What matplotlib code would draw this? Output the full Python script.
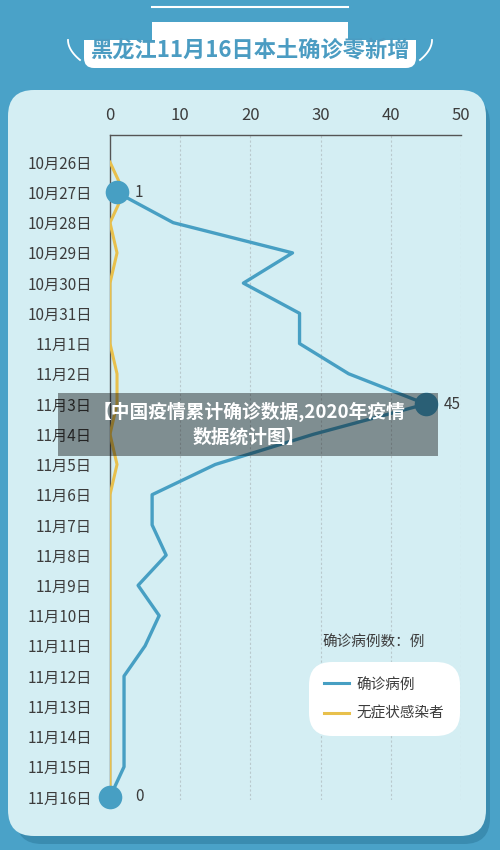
import matplotlib
matplotlib.use('Agg')
import matplotlib.pyplot as plt
import numpy as np
from matplotlib.patches import FancyBboxPatch, Rectangle
from matplotlib.lines import Line2D

plt.rcParams['font.family'] = ['Noto Sans CJK SC', 'DejaVu Sans']

## Data
dates = ['10月26日', '10月27日', '10月28日', '10月29日', '10月30日', '10月31日',
         '11月1日', '11月2日', '11月3日', '11月4日', '11月5日', '11月6日',
         '11月7日', '11月8日', '11月9日', '11月10日', '11月11日', '11月12日',
         '11月13日', '11月14日', '11月15日', '11月16日']
confirmed = [np.nan, 1, 9, 26, 19, 27, 27, 34, 45, 29, 15, 6,
             6, 8, 4, 7, 5, 2, 2, 2, 2, 0]
asymptomatic = [0, 2, 0, 1, 0, 0, 0, 1, 1, 0, 1, 0,
                0, 0, 0, 0, 0, 0, 0, 0, 0, 0]
highlight = ['10月27日', '11月3日', '11月16日']
xticks = [0, 10, 20, 30, 40, 50]

title = '黑龙江11月16日本土确诊零新增'
unit_label = '确诊病例数：例'
series_names = ['确诊病例', '无症状感染者']
overlay_text = '【中国疫情累计确诊数据,2020年疫情\n数据统计图】'

## Colours
bg_blue = '#4aa2c8'
panel = '#d4eef3'
blue = '#479fc3'
yellow = '#e8c04c'
txt = '#3c3c3c'

W, H = 500, 850
fig = plt.figure(figsize=(W / 100, H / 100), dpi=100)
fig.patch.set_facecolor(bg_blue)

# background decoration in pixel coordinates
bg = fig.add_axes([0, 0, 1, 1])
bg.set_xlim(0, W)
bg.set_ylim(H, 0)
bg.axis('off')
bg.add_patch(FancyBboxPatch((16, 98), 474, 746, boxstyle='round,pad=0,rounding_size=26',
                            fc='#3a8cb0', ec='none'))
bg.add_patch(FancyBboxPatch((8, 90), 478, 746, boxstyle='round,pad=0,rounding_size=26',
                            fc=panel, ec='none'))
bg.plot([152, 348], [7, 7], color='white', lw=1.5)
bg.add_patch(Rectangle((152, 22), 196, 30, fc='white', ec='none'))
bg.add_patch(FancyBboxPatch((84, 40), 332, 28, boxstyle='round,pad=0,rounding_size=10',
                            fc='white', ec='none'))
bg.add_patch(Rectangle((84, 40), 332, 12, fc='white', ec='none'))
t = np.linspace(0, 1, 30)
bg.plot(68 + 12 * t ** 2, 40 + 20 * t, color='white', lw=1.3)
bg.plot(432 - 12 * t ** 2, 40 + 20 * t, color='white', lw=1.3)
bg.text(250, 50, title, ha='center', va='center', fontsize=16, fontweight='bold',
        color='#4b9cc2')

# main chart
ax = fig.add_axes([110 / W, 1 - 800 / H, 351 / W, 665 / H])
ax.patch.set_alpha(0)
y = np.arange(len(dates))

ax.plot(asymptomatic, y, color=yellow, lw=2.2, zorder=3)
ax.plot(confirmed, y, color=blue, lw=2.4, zorder=4)

for d in highlight:
    i = dates.index(d)
    ax.plot(confirmed[i], i, 'o', ms=17, color=blue, mec='none', zorder=5, clip_on=False)
    off = 18 if confirmed[i] == 0 else 13
    ax.annotate('%d' % confirmed[i], (confirmed[i], i), xytext=(off, 0),
                textcoords='offset points', va='center', ha='left', fontsize=11,
                color=txt)

ax.set_xlim(0, 50)
ax.set_ylim(len(dates) - 1 + 0.1, -0.9)
ax.set_xticks(xticks)
ax.set_yticks(y)
ax.set_yticklabels(dates)
ax.xaxis.tick_top()
ax.tick_params(axis='x', length=0, pad=8, labelsize=12, labelcolor=txt)
ax.tick_params(axis='y', length=0, pad=13, labelsize=11, labelcolor=txt)
for s in ['right', 'bottom']:
    ax.spines[s].set_visible(False)
for s in ['top', 'left']:
    ax.spines[s].set_color('#555555')
    ax.spines[s].set_linewidth(1.0)
for v in xticks[1:]:
    ax.axvline(v, color='#b9c9cd', lw=0.8, ls=(0, (2, 2)), zorder=1)

# legend
handles = [Line2D([], [], color=blue, lw=2.2), Line2D([], [], color=yellow, lw=2.2)]
leg = fig.legend(handles, series_names, loc='upper left',
                 bbox_to_anchor=(312 / W, 1 - 665 / H), bbox_transform=fig.transFigure,
                 borderaxespad=0, frameon=True, fontsize=10.5, handlelength=1.7,
                 handletextpad=0.5, labelspacing=1.05, borderpad=0.85, labelcolor=txt)
frame = leg.get_frame()
frame.set_facecolor('white')
frame.set_edgecolor('none')
frame.set_alpha(1)
frame.set_boxstyle('round', pad=0.2, rounding_size=1.6)
fig.text(322 / W, 1 - 642 / H, unit_label, ha='left', va='center', fontsize=10.5,
         color=txt)

# translucent caption overlay
fig.patches.append(Rectangle((58 / W, 1 - 456 / H), 380 / W, 63 / H,
                             transform=fig.transFigure, fc='black', alpha=0.4,
                             ec='none', zorder=10))
fig.text(249 / W, 1 - 424 / H, overlay_text, ha='center', va='center', fontsize=13.5,
         fontweight='bold', color='white', linespacing=1.35, zorder=11)

fig.savefig('out.png', dpi=100, facecolor=fig.get_facecolor())
